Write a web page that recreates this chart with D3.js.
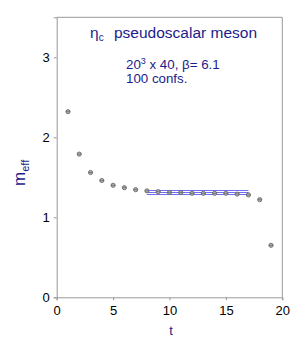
<!DOCTYPE html>
<html><head><meta charset="utf-8">
<script src="https://cdn.jsdelivr.net/npm/d3@7"></script>
<style>body{margin:0;background:#fff}svg{display:block}text{font-family:"Liberation Sans",Arial,sans-serif}</style>
</head><body><svg id="c" width="300" height="354"></svg>
<script>
const tValues = [1,2,3,4,5,6,7,8,9,10,11,12,13,14,15,16,17,18,19];
const meffValues = [2.32,1.79,1.56,1.46,1.40,1.37,1.345,1.33,1.32,1.31,1.31,1.30,1.30,1.30,1.30,1.29,1.28,1.22,0.65];
const fitRange = [8,17];
const fitValues = [1.335,1.31,1.285];
const xTicks = [0,5,10,15,20];
const yTicks = [0,1,2,3];

const svg = d3.select("#c");
const x = d3.scaleLinear().domain([0,20]).range([56.7,282.3]);
const y = d3.scaleLinear().domain([0,3.5]).range([297.3,17.3]);
const axisColor = "#999";

// frame top and right
svg.append("line").attr("x1",x(0)).attr("x2",x(20)).attr("y1",y(3.5)).attr("y2",y(3.5)).attr("stroke",axisColor);
svg.append("line").attr("x1",x(20)).attr("x2",x(20)).attr("y1",y(3.5)).attr("y2",y(0)).attr("stroke",axisColor);

const gx = svg.append("g").attr("transform",`translate(0,${y(0)})`)
  .call(d3.axisBottom(x).tickValues(xTicks).tickFormat(d3.format("d")).tickSize(3).tickPadding(5));
const gy = svg.append("g").attr("transform",`translate(${x(0)},0)`)
  .call(d3.axisLeft(y).tickValues(yTicks).tickFormat(d3.format("d")).tickSize(3).tickPadding(4));
[gx,gy].forEach(g=>{
  g.select(".domain").attr("stroke",axisColor);
  g.selectAll(".tick line").attr("stroke",axisColor);
  g.selectAll(".tick text").attr("fill","#000").style("font-size","13px").style("font-family","Liberation Sans, Arial, sans-serif");
});

// fit band
svg.selectAll(".fit").data(fitValues).enter().append("line")
  .attr("x1",x(fitRange[0])).attr("x2",x(fitRange[1]))
  .attr("y1",d=>y(d)).attr("y2",d=>y(d))
  .attr("stroke","#7070ee").attr("stroke-width",1);

// points
const pts = tValues.map((t,i)=>({t,v:meffValues[i]}));
svg.selectAll(".pt").data(pts).enter().append("circle")
  .attr("cx",d=>x(d.t)).attr("cy",d=>y(d.v)).attr("r",2.1)
  .attr("fill","#b0b0b0").attr("stroke","#606060").attr("stroke-width",0.8);
svg.selectAll(".eb").data(pts).enter().append("line")
  .attr("x1",d=>x(d.t)-2.1).attr("x2",d=>x(d.t)+2.1)
  .attr("y1",d=>y(d.v)).attr("y2",d=>y(d.v))
  .attr("stroke","#555").attr("stroke-width",0.6);

const blue = "#1c1c8a";
// title
const t1 = svg.append("text").attr("x",90).attr("y",37.5).attr("fill",blue).style("font-size","15.5px");
t1.append("tspan").text("η");
t1.append("tspan").attr("dy",3).style("font-size","10px").text("c");
t1.append("tspan").attr("x",114).attr("dy",-3).text("pseudoscalar meson");

const t2 = svg.append("text").attr("x",126).attr("y",68.5).attr("fill",blue).style("font-size","13.3px");
t2.append("tspan").text("20");
t2.append("tspan").attr("dy",-5).style("font-size","9px").text("3");
t2.append("tspan").attr("dy",5).text(" x 40, β= 6.1");
svg.append("text").attr("x",126).attr("y",82.5).attr("fill",blue).style("font-size","13.3px").text("100 confs.");

// axis titles
svg.append("text").attr("x",171).attr("y",335).attr("text-anchor","middle").attr("fill",blue).style("font-size","13px").text("t");
const yl = svg.append("text").attr("transform","translate(25,186) rotate(-90)").attr("fill",blue).style("font-size","17px");
yl.append("tspan").text("m");
yl.append("tspan").attr("dy",4).style("font-size","11px").text("eff");
</script></body></html>
